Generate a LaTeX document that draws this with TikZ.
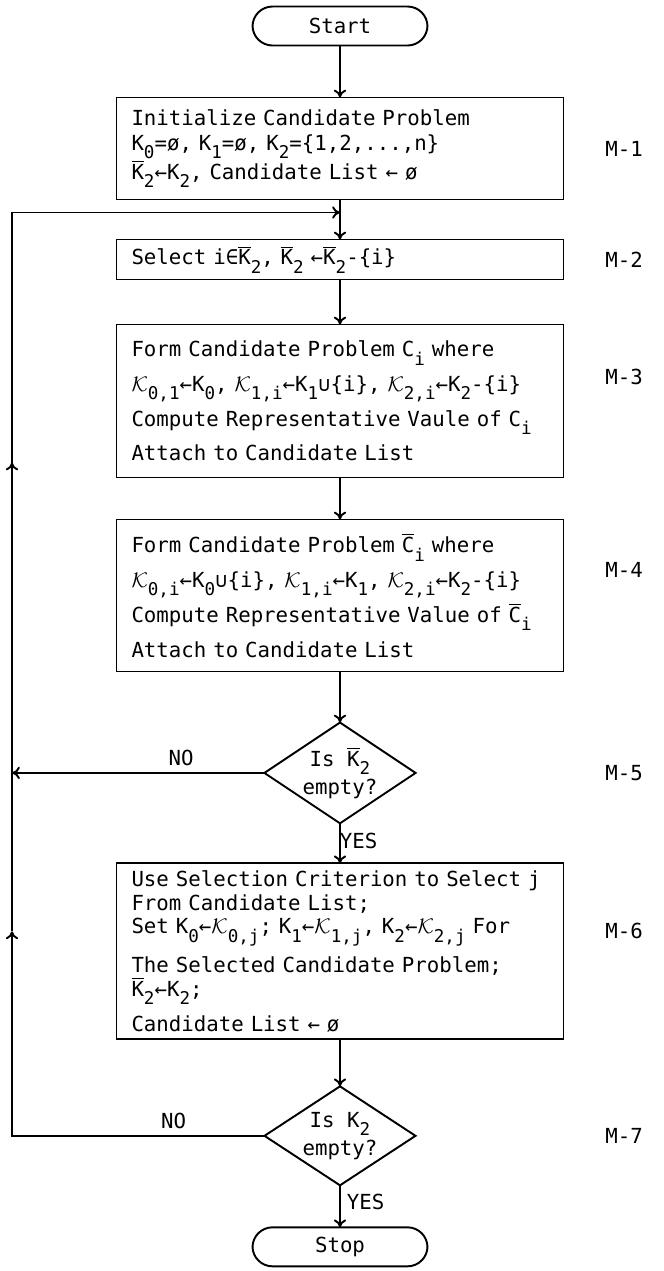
\documentclass[tikz,border=0pt]{standalone}
\usepackage{fontspec}
\newfontfamily\lpfont{DejaVu Sans Mono}
\usetikzlibrary{arrows,arrows.meta,shapes,positioning,calc}
\newcommand{\lo}[1]{\raisebox{-0.75ex}{\fontsize{10}{10}\selectfont #1}}
\newcommand{\ovl}[1]{\ensuremath{\overline{\mbox{#1}}}}
\newcommand{\cK}{\ensuremath{\mathcal{K}}}

\begin{document}
\begin{tikzpicture}[>={To[length=4.5pt,width=7pt]},line width=1.1pt,
  every node/.style={font=\lpfont\fontsize{11.8}{14.2}\selectfont},
  blk/.style={draw,align=left,text width=8.34cm,inner xsep=0.3cm,outer sep=0pt},
  wide/.style={font=\lpfont\fontsize{11.8}{19.8}\selectfont},
  term/.style={draw,rounded corners=0.4cm,minimum width=3.5cm,minimum height=0.78cm,
               outer sep=0pt},
  dec/.style={draw,diamond,aspect=1.5,inner sep=0pt,minimum width=3.02cm,
              minimum height=1.98cm,align=center,outer sep=0pt,
              font=\lpfont\fontsize{11.8}{15.9}\selectfont}]
\useasboundingbox (0,0) rectangle (13.28,-25.42);
\node (start) [term] at (6.8,-0.52) {Start};
\node (init) [blk,below=1.04cm of start,minimum height=2.04cm]
      {Initialize Candidate Problem\\
       K\lo{0}=ø, K\lo{1}=ø, K\lo{2}=\{1,2,...,n\}\\
       \ovl{K}\lo{2}←K\lo{2}, Candidate List ← ø};
\node (sel) [blk,below=0.8cm of init,minimum height=0.8cm]
      {Select i∈\ovl{K}\lo{2}, \ovl{K}\lo{2} ←\ovl{K}\lo{2}-\{i\}};
\node (formc) [blk,wide,below=0.9cm of sel,minimum height=3.06cm]
      {Form Candidate Problem C\lo{i} where\\
       \cK\lo{0,1}←K\lo{0}, \cK\lo{1,i}←K\lo{1}∪\{i\}, \cK\lo{2,i}←K\lo{2}-\{i\}\\
       Compute Representative Vaule of C\lo{i}\\
       Attach to Candidate List};
\node (formcb) [blk,wide,below=0.84cm of formc,minimum height=3.04cm]
      {Form Candidate Problem \ovl{C}\lo{i} where\\
       \cK\lo{0,i}←K\lo{0}∪\{i\}, \cK\lo{1,i}←K\lo{1}, \cK\lo{2,i}←K\lo{2}-\{i\}\\
       Compute Representative Value of \ovl{C}\lo{i}\\
       Attach to Candidate List};
\node (chk1) [dec,below=1.02cm of formcb] {Is \ovl{K}\lo{2}\\empty?};
\node (pick) [blk,below=0.8cm of chk1,minimum height=3.52cm,
              font=\lpfont\fontsize{11.8}{13.5}\selectfont]
      {Use Selection Criterion to Select j\\
       From Candidate List;\\
       Set K\lo{0}←\cK\lo{0,j}; K\lo{1}←\cK\lo{1,j}, K\lo{2}←\cK\lo{2,j} For\\[5pt]
       The Selected Candidate Problem;\\
       \ovl{K}\lo{2}←K\lo{2};\\[5pt]
       Candidate List ← ø};
\node (chk2) [dec,below=0.94cm of pick] {Is K\lo{2}\\empty?};
\node (stop) [term,below=0.84cm of chk2] {Stop};
% step tags on the right
\node (t1) [right=0.7cm of init.east] {M-1};
\node (t2) at (sel -| t1) {M-2};
\node (t3) at ($(formc -| t1)+(0,0.48)$) {M-3};
\node (t4) at ($(formcb -| t1)+(0,0.52)$) {M-4};
\node (t5) at (chk1 -| t1) {M-5};
\node (t6) at ($(pick -| t1)+(0,0.4)$) {M-6};
\node (t7) at (chk2 -| t1) {M-7};
% return rail
\coordinate (rail) at (0.24,0);
\coordinate [above=0.54cm of sel] (fb);
\coordinate (up1) at ($(rail |- formc.south)+(0,0.3)$);
\coordinate (up2) at (rail |- t6);
\draw[->] (start) -- (init);
\draw[->] (init) -- (sel);
\draw[->] (sel) -- (formc);
\draw[->] (formc) -- (formcb);
\draw[->] (formcb) -- (chk1);
\draw[->] (chk1) -- node[right,pos=0.45,xshift=-4pt] {YES} (pick);
\draw[->] (pick) -- (chk2);
\draw[->] (chk2) -- node[right,pos=0.4] {YES} (stop);
\draw[->] (chk1.west) -- node[above,pos=0.33] {NO} (rail |- chk1);
\draw[->] (chk2.west) -| node[above,pos=0.18] {NO} (up2);
\draw[->] (up2) -- (up1);
\draw[->] (up1) |- (fb);
\end{tikzpicture}
\end{document}
